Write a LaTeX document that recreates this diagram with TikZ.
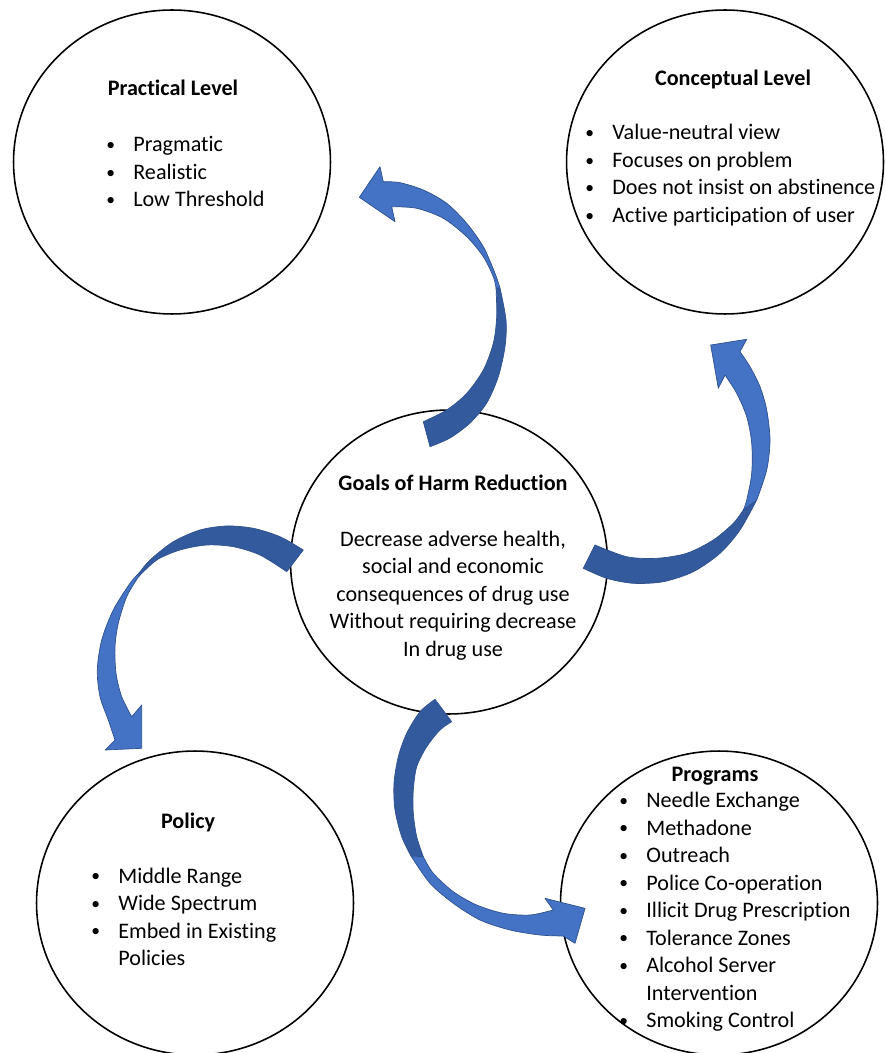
\documentclass[tikz,border=0pt]{standalone}
\usepackage{fontspec}
\setmainfont{Carlito}[Ligatures=NoCommon]
\usepackage{tikz}
\usetikzlibrary{shapes.geometric}

\definecolor{arrowlight}{HTML}{4472C4}
\definecolor{arrowdark}{HTML}{345A9E}
\definecolor{arrowline}{HTML}{2F528F}

\newcommand{\bul}{\makebox[0.54cm][l]{\raisebox{0.6pt}{\fontsize{10}{10}\selectfont\textbullet}}}
\newcommand{\gap}{\hspace*{0.54cm}}

\begin{document}
\begin{tikzpicture}[
  x=0.02cm, y=-0.02cm,
  every node/.style={font=\fontsize{12.6}{15.6}\selectfont},
  bubble/.style={ellipse, draw, line width=0.9pt, inner sep=0pt, minimum width=6.34cm, minimum height=6.08cm},
  heading/.style={anchor=base, inner sep=0pt, font=\fontsize{12.6}{15.6}\selectfont\bfseries},
  listline/.style={anchor=base west, inner sep=0pt},
  bodyline/.style={anchor=base, inner sep=0pt},
  arrowfront/.style={fill=arrowlight, draw=arrowline, line width=0.4pt, line join=round},
  arrowback/.style={fill=arrowdark, draw=arrowline, line width=0.4pt, line join=round}
]
\useasboundingbox (0,0) rectangle (885,1053);

% circles
\node[bubble] (practical) at (172,162) {};
\node[bubble] (conceptual) at (725,162) {};
\node[bubble] (goals) at (449,562) {};
\node[bubble] (policy) at (195,903) {};
\node[bubble] (programs) at (719,903) {};

% practical level
\node[heading] (practicalTitle) at (173,96) {Practical Level};
\foreach \t [count=\i] in {Pragmatic, Realistic, Low Threshold}
  \node[listline] (practical-\i) at (106,{152+27.5*(\i-1)}) {\bul\t};

% conceptual level
\node[heading] (conceptualTitle) at (733,86) {Conceptual Level};
\foreach \t [count=\i] in {Value-neutral view, Focuses on problem,
    Does not insist on abstinence, Active participation of user}
  \node[listline] (conceptual-\i) at (585,{140+27.5*(\i-1)}) {\bul\t};

% goals
\node[heading] (goalsTitle) at (453,490) {Goals of Harm Reduction};
\foreach \t [count=\i] in {{Decrease adverse health,}, social and economic,
    consequences of drug use, Without requiring decrease, In drug use}
  \node[bodyline] (goals-\i) at (453,{546+27.5*(\i-1)}) {\t};

% policy
\node[heading] (policyTitle) at (188,828) {Policy};
\foreach \t [count=\i] in {\bul Middle Range, \bul Wide Spectrum,
    \bul Embed in Existing, \gap Policies}
  \node[listline] (policy-\i) at (91,{883+27.5*(\i-1)}) {\t};

% programs
\node[heading] (programsTitle) at (715,781) {Programs};
\foreach \t [count=\i] in {\bul Needle Exchange, \bul Methadone, \bul Outreach,
    \bul Police Co-operation, \bul Illicit Drug Prescription, \bul Tolerance Zones,
    \bul Alcohol Server, \gap Intervention, \bul Smoking Control}
  \node[listline] (programs-\i) at (619,{807.5+27.5*(\i-1)}) {\t};

% curved arrows: goals -> practical
\path[arrowback] plot[smooth] coordinates {(500,288) (506,320) (505,346.7) (498.3,376.7) (486.7,403) (470,423) (450,438) (430,446.7)}
  -- (423.3,421.7)
  -- plot[smooth] coordinates {(423.3,421.7) (446.7,410) (466.7,393.3) (483.3,370) (493.3,343.3) (496.7,316.7) (496,288)} -- cycle;
\path[arrowfront] plot[smooth] coordinates {(500,288) (495,273.3) (483.3,246.7) (466.7,223.3) (446.7,203.3) (423.3,190) (400,182.7) (383.3,181.7)}
  -- (380,166.7) -- (359.3,197.3) -- (395,221.7) -- (391.7,206.7)
  -- plot[smooth] coordinates {(391.7,206.7) (416.7,208.3) (443.3,218.3) (466.7,236.7) (483.3,256.7) (493.3,276.7) (496,288)} -- cycle;

% goals -> conceptual
\path[arrowback] plot[smooth] coordinates {(756.7,500) (740,530) (720,553.3) (693.3,571.7) (663.3,581.7) (633.3,583.3) (606.7,578.3) (583.3,568.3)}
  -- (595,545)
  -- plot[smooth] coordinates {(595,545) (626.7,556.7) (656.7,558.3) (686.7,553.3) (713.3,540) (733.3,523.3) (743.3,510)} -- cycle;
\path[arrowfront] plot[smooth] coordinates {(756.7,500) (766.7,470) (770,440) (766.7,410) (760,386.7) (750,366.7) (740,351.7)}
  -- (746.7,339.3) -- (710.7,345) -- (718.3,388.3) -- (725,375)
  -- plot[smooth] coordinates {(725,375) (736.7,393.3) (746.7,416.7) (751.7,443.3) (751.7,473.3) (746.7,500) (743.3,510)} -- cycle;

% goals -> policy
\path[arrowback] plot[smooth] coordinates {(140,572) (150,560) (173.3,541.7) (200,530) (226.7,526) (253.3,528.3) (280,536.7) (303.3,550)}
  -- (286.7,571.7)
  -- plot[smooth] coordinates {(286.7,571.7) (260,555) (233.3,546.7) (206.7,545) (180,550) (156.7,560) (138.3,577)} -- cycle;
\path[arrowfront] plot[smooth] coordinates {(140,572) (130,583.3) (113.3,610) (101.7,640) (97.3,670) (100,696.7) (108.3,720) (115,740)}
  -- (105,750) -- (141.7,748.3) -- (141.7,705) -- (131.7,716.7)
  -- plot[smooth] coordinates {(131.7,716.7) (121.7,696.7) (116,673.3) (115,646.7) (118.3,623.3) (126.7,596.7) (138.3,577)} -- cycle;

% goals -> programs
\path[arrowback] plot[smooth] coordinates {(411,856) (401.7,836.7) (395,810) (394,783.3) (398.3,756.7) (406.7,733.3) (420,711.7) (435,699.3)}
  -- (451.7,721.7)
  -- plot[smooth] coordinates {(451.7,721.7) (440,730) (426.7,746.7) (416.7,766.7) (413.3,790) (413.3,813.3) (416.7,836.7) (423.3,856.7)} -- cycle;
\path[arrowfront] plot[smooth] coordinates {(411,856) (430,883.3) (453.3,903.3) (480,920) (510,930) (540,935) (563.3,936)}
  -- (575,943.3) -- (585,908.3) -- (545,898.3) -- (553.3,910)
  -- plot[smooth] coordinates {(553.3,910) (530,915) (503.3,913.3) (476.7,905) (453.3,891.7) (433.3,873.3) (423.3,856.7)} -- cycle;

\end{tikzpicture}
\end{document}
